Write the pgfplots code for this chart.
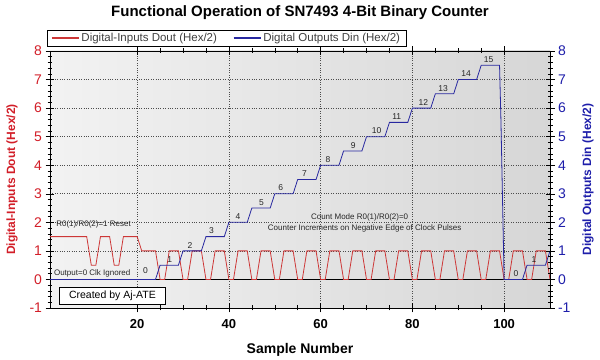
\documentclass[border=0pt]{standalone}
\usepackage{pgfplots}
\usepackage{pgfplotstable}
\pgfplotsset{compat=1.18}
\usepackage{fontspec}
\setmainfont{Liberation Sans}
\usetikzlibrary{calc}
\definecolor{redline}{RGB}{205,55,55}
\definecolor{blueline}{RGB}{40,40,160}
\definecolor{redtext}{RGB}{210,30,40}
\definecolor{bluetext}{RGB}{30,30,170}

\pgfplotstableread{
x y
1 1.5
2 1.5
3 1.5
4 1.5
5 1.5
6 1.5
7 1.5
8 1.5
9 1.5
10 0.5
11 0.5
12 1.5
13 1.5
14 1.5
15 0.5
16 0.5
17 1.5
18 1.5
19 1.5
20 1.5
21 1
22 1
23 1
24 1
25 0
26 0
27 1
28 1
29 1
30 0
31 0
32 1
33 1
34 1
35 0
36 0
37 1
38 1
39 1
40 0
41 0
42 1
43 1
44 1
45 0
46 0
47 1
48 1
49 1
50 0
51 0
52 1
53 1
54 1
55 0
56 0
57 1
58 1
59 1
60 0
61 0
62 1
63 1
64 1
65 0
66 0
67 1
68 1
69 1
70 0
71 0
72 1
73 1
74 1
75 0
76 0
77 1
78 1
79 1
80 0
81 0
82 1
83 1
84 1
85 0
86 0
87 1
88 1
89 1
90 0
91 0
92 1
93 1
94 1
95 0
96 0
97 1
98 1
99 1
100 0
101 0
102 1
103 1
104 1
105 0
106 0
107 1
108 1
109 1
110 0
}\reddata

\pgfplotstableread{
x y
1 0
5 0
10 0
15 0
20 0
24 0
25 0.5
29 0.5
30 1
34 1
35 1.5
39 1.5
40 2
44 2
45 2.5
49 2.5
50 3
54 3
55 3.5
59 3.5
60 4
64 4
65 4.5
69 4.5
70 5
74 5
75 5.5
79 5.5
80 6
84 6
85 6.5
89 6.5
90 7
94 7
95 7.5
99 7.5
99.3 5.6
100 0
104 0
105 0.5
109 0.5
110 1
}\bluedata

\begin{document}
\begin{tikzpicture}
\pgfplotsset{
  common/.style={
    width=500pt, height=257pt, scale only axis,
    xmin=1, xmax=110, ymin=-1, ymax=8,
    tick align=center,
    major tick length=9pt, minor tick length=5pt,
    /pgf/number format/assume math mode=true,
    every tick/.style={black, line width=0.5pt},
    axis line style={line width=0.6pt},
  }
}
\begin{axis}[common,
  axis background/.style={left color=black!5, right color=black!16},
  xtick={20,40,60,80,100}, minor x tick num=3,
  ytick={-1,0,...,8}, minor y tick num=4,
  xtick pos=both, ytick pos=left,
  xticklabel pos=bottom,
  grid=major, major grid style={dotted, black!70, line width=0.6pt},
  xticklabel style={font=\bfseries\fontsize{13}{15}\selectfont, yshift=-3pt},
  yticklabel style={font=\fontsize{14}{16}\selectfont, text=redtext},
  xlabel={Sample Number},
  xlabel style={font=\bfseries\fontsize{14}{16}\selectfont, at={(rel axis cs:0.5,0)}, anchor=center, yshift=-42pt},
  ylabel={Digital-Inputs Dout (Hex/2)},
  ylabel style={font=\bfseries\fontsize{12}{14}\selectfont, text=redtext, at={(rel axis cs:0,0.5)}, anchor=center, yshift=38pt},
  clip=false,
  legend columns=2,
  legend style={at={(rel axis cs:0,1)}, anchor=south west, xshift=-3pt, yshift=5pt,
    draw=black, fill=white, font=\fontsize{11.5}{13}\selectfont,
    inner ysep=1pt, inner xsep=4pt,
    /tikz/every even column/.append style={column sep=14pt}},
  legend image code/.code={\draw[#1, line width=1.3pt] (0pt,0pt) -- (27pt,0pt);},
]
\addplot[black, line width=0.6pt, forget plot] coordinates {(1,0) (110,0)};
\addplot[redline, line width=0.8pt] table[x=x,y=y] {\reddata};
\addlegendentry{\textcolor{black!75}{Digital-Inputs Dout (Hex/2)}}
\addplot[blueline, line width=0.8pt] table[x=x,y=y] {\bluedata};
\addlegendentry{\textcolor{black!75}{Digital Outputs Din (Hex/2)}}

\begin{scope}[every node/.style={font=\fontsize{8.5}{9}\selectfont, text=black!85, inner sep=0pt}]
\node at (axis cs:21.8,0.32) {0};
\node at (axis cs:27.1,0.68) {1};
\node at (axis cs:31.5,1.20) {2};
\node at (axis cs:36.2,1.72) {3};
\node at (axis cs:42.0,2.20) {4};
\node at (axis cs:47.1,2.70) {5};
\node at (axis cs:51.3,3.20) {6};
\node at (axis cs:56.5,3.72) {7};
\node at (axis cs:61.6,4.20) {8};
\node at (axis cs:67.1,4.70) {9};
\node at (axis cs:72.2,5.20) {10};
\node at (axis cs:76.6,5.70) {11};
\node at (axis cs:82.4,6.20) {12};
\node at (axis cs:86.7,6.70) {13};
\node at (axis cs:91.7,7.20) {14};
\node at (axis cs:96.6,7.71) {15};
\node at (axis cs:102.6,0.22) {0};
\node at (axis cs:106.5,0.69) {1};
\end{scope}
\begin{scope}[every node/.style={font=\fontsize{8}{9}\selectfont, text=black!85, inner sep=0pt}]
\node at (axis cs:10.5,1.93) {R0(1)/R0(2)=1 Reset};
\node at (axis cs:10.2,0.20) {Output=0 Clk Ignored};
\node at (axis cs:68.5,2.17) {Count Mode R0(1)/R0(2)=0};
\node at (axis cs:69.6,1.79) {Counter Increments on Negative Edge of Clock Pulses};
\end{scope}
\node[draw=black, line width=0.8pt, fill=white, font=\fontsize{10.5}{12}\selectfont,
  minimum width=106pt, minimum height=17pt, inner sep=0pt] at (axis cs:14.6,-0.58) {Created by Aj-ATE};
\end{axis}

\begin{axis}[common,
  axis x line=none, axis y line*=right,
  ytick={-1,0,...,8}, minor y tick num=4,
  yticklabel style={font=\fontsize{14}{16}\selectfont, text=bluetext},
  ylabel={Digital Outputs Din (Hex/2)},
  ylabel style={font=\bfseries\fontsize{12}{14}\selectfont, text=bluetext, at={(rel axis cs:1,0.5)}, anchor=center, yshift=-38pt},
]
\end{axis}

\node[font=\bfseries\fontsize{15}{17}\selectfont] at ($(current axis.north)+(0,38pt)$) {Functional Operation of SN7493 4-Bit Binary Counter};
\path ($(current axis.south west)+(-50pt,-52pt)$) rectangle ($(current axis.north east)+(50pt,51pt)$);
\end{tikzpicture}
\end{document}
